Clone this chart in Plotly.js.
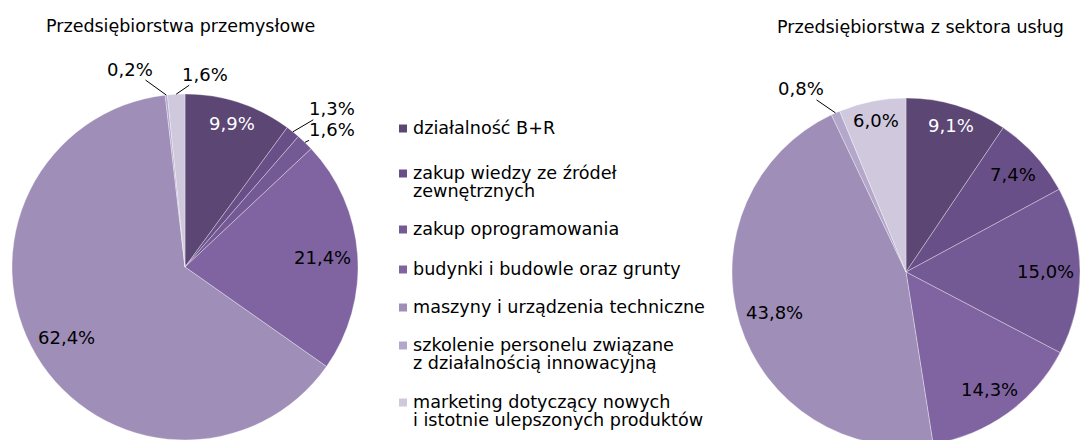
<!DOCTYPE html>
<html><head><meta charset="utf-8">
<script src="https://cdn.plot.ly/plotly-3.0.1.min.js"></script>
<style>html,body{margin:0;padding:0;overflow:hidden;background:#fff}#chart{width:1082px;height:450px}</style>
</head><body><div id="chart"></div>
<script>
// ---- data ----
const categories = [
  'działalność B+R',
  'zakup wiedzy ze źródeł<br>zewnętrznych',
  'zakup oprogramowania',
  'budynki i budowle oraz grunty',
  'maszyny i urządzenia techniczne',
  'szkolenie personelu związane<br>z działalnością innowacyjną',
  'marketing dotyczący nowych<br>i istotnie ulepszonych produktów'
];
const industryValues = [9.9, 1.3, 1.6, 21.4, 62.4, 0.2, 1.6];
const servicesValues = [9.1, 7.4, 15.0, 14.3, 43.8, 0.8, 6.0];
const industryTitle = 'Przedsiębiorstwa przemysłowe';
const servicesTitle = 'Przedsiębiorstwa z sektora usług';

// ---- style ----
const colors = ['#5b4674', '#684f87', '#735a95', '#8064a2', '#9f8eb7', '#b4a8ca', '#d0c9de'];
const insideTextColors = ['#ffffff', '#000', '#000', '#000', '#000', '#000', '#000'];
const FONT = 'DejaVu Sans, sans-serif';
const W = 1082, H = 450;
const pies = [
  {values: industryValues, title: industryTitle, cx: 185, cy: 267, r: 173, titleX: 180, titleY: 26,
   outside: {1: [39, -23], 2: [27, -13], 5: [-36, -26], 6: [29, -20]}},
  {values: servicesValues, title: servicesTitle, cx: 906, cy: 272, r: 174, titleX: 920, titleY: 27,
   outside: {5: [-35, -24]}}
];
const legendBaselines = [134, 179, 235, 275, 313, 351, 408];
const legendLineStep = 18;
const legendTextX = 411, swatchX = 399, swatchSize = 8;

const px = x => x / W, py = y => 1 - y / H;
const fmt = v => v.toFixed(1).replace('.', ',') + '%';
const LABEL_SIZE = 18;
function textWidth(s, size) {
  let w = 0;
  for (const c of s) w += (c === ',' ? 0.318 : c === '%' ? 0.95 : 0.636);
  return w * size;
}

const traces = [];
const annotations = [];
const shapes = [];

pies.forEach(p => {
  traces.push({
    type: 'pie', values: p.values, labels: categories, sort: false, direction: 'clockwise', rotation: 0,
    textinfo: 'none', hoverinfo: 'none', showlegend: false,
    marker: {colors: colors, line: {color: 'rgba(255,255,255,0.55)', width: 0.6}},
    domain: {x: [px(p.cx - p.r), px(p.cx + p.r)], y: [py(p.cy + p.r), py(p.cy - p.r)]}
  });
  const total = p.values.reduce((a, b) => a + b, 0);
  let cum = 0;
  p.values.forEach((v, i) => {
    const a = (cum + v / 2) / total * 2 * Math.PI;
    cum += v;
    const s = Math.sin(a), c = Math.cos(a);
    const label = fmt(v);
    if (p.outside[i]) {
      const ex = p.cx + p.r * s, ey = p.cy - p.r * c;
      const off = p.outside[i];
      annotations.push({
        xref: 'paper', yref: 'paper', x: px(ex), y: py(ey), text: label,
        showarrow: true, ax: off[0], ay: off[1], arrowhead: 0, arrowwidth: 1, arrowcolor: '#000',
        standoff: 0, startstandoff: 0, borderpad: 0,
        font: {family: FONT, size: LABEL_SIZE, color: '#000'}
      });
    } else {
      const w = textWidth(label, LABEL_SIZE), h = 18;
      const d = 6 + (w / 2) * Math.abs(s) + (h / 2) * Math.abs(c);
      const rr = p.r - d;
      annotations.push({
        xref: 'paper', yref: 'paper', x: px(p.cx + rr * s), y: py(p.cy - rr * c),
        xanchor: 'center', yanchor: 'middle', showarrow: false, text: label,
        font: {family: FONT, size: LABEL_SIZE, color: insideTextColors[i]}
      });
    }
  });
  annotations.push({
    xref: 'paper', yref: 'paper', x: px(p.titleX), y: py(p.titleY), xanchor: 'center', yanchor: 'middle',
    showarrow: false, text: p.title, font: {family: FONT, size: 17.5, color: '#000'}
  });
});

// legend
categories.forEach((cat, i) => {
  const lines = cat.split('<br>');
  const b = legendBaselines[i];
  shapes.push({
    type: 'rect', xref: 'paper', yref: 'paper',
    x0: px(swatchX), x1: px(swatchX + swatchSize),
    y0: py(b - 5.5 + swatchSize / 2), y1: py(b - 5.5 - swatchSize / 2),
    fillcolor: colors[i], line: {width: 0}
  });
  lines.forEach((ln, k) => {
    annotations.push({
      xref: 'paper', yref: 'paper', x: px(legendTextX), y: py(b + k * legendLineStep - 6),
      xanchor: 'left', yanchor: 'middle', showarrow: false, text: ln,
      font: {family: FONT, size: 17.6, color: '#000'}
    });
  });
});

Plotly.newPlot('chart', traces, {
  width: W, height: H, margin: {l: 0, r: 0, t: 0, b: 0},
  paper_bgcolor: '#fff', plot_bgcolor: '#fff', showlegend: false,
  annotations: annotations, shapes: shapes
}, {staticPlot: true});
</script>
</body></html>
